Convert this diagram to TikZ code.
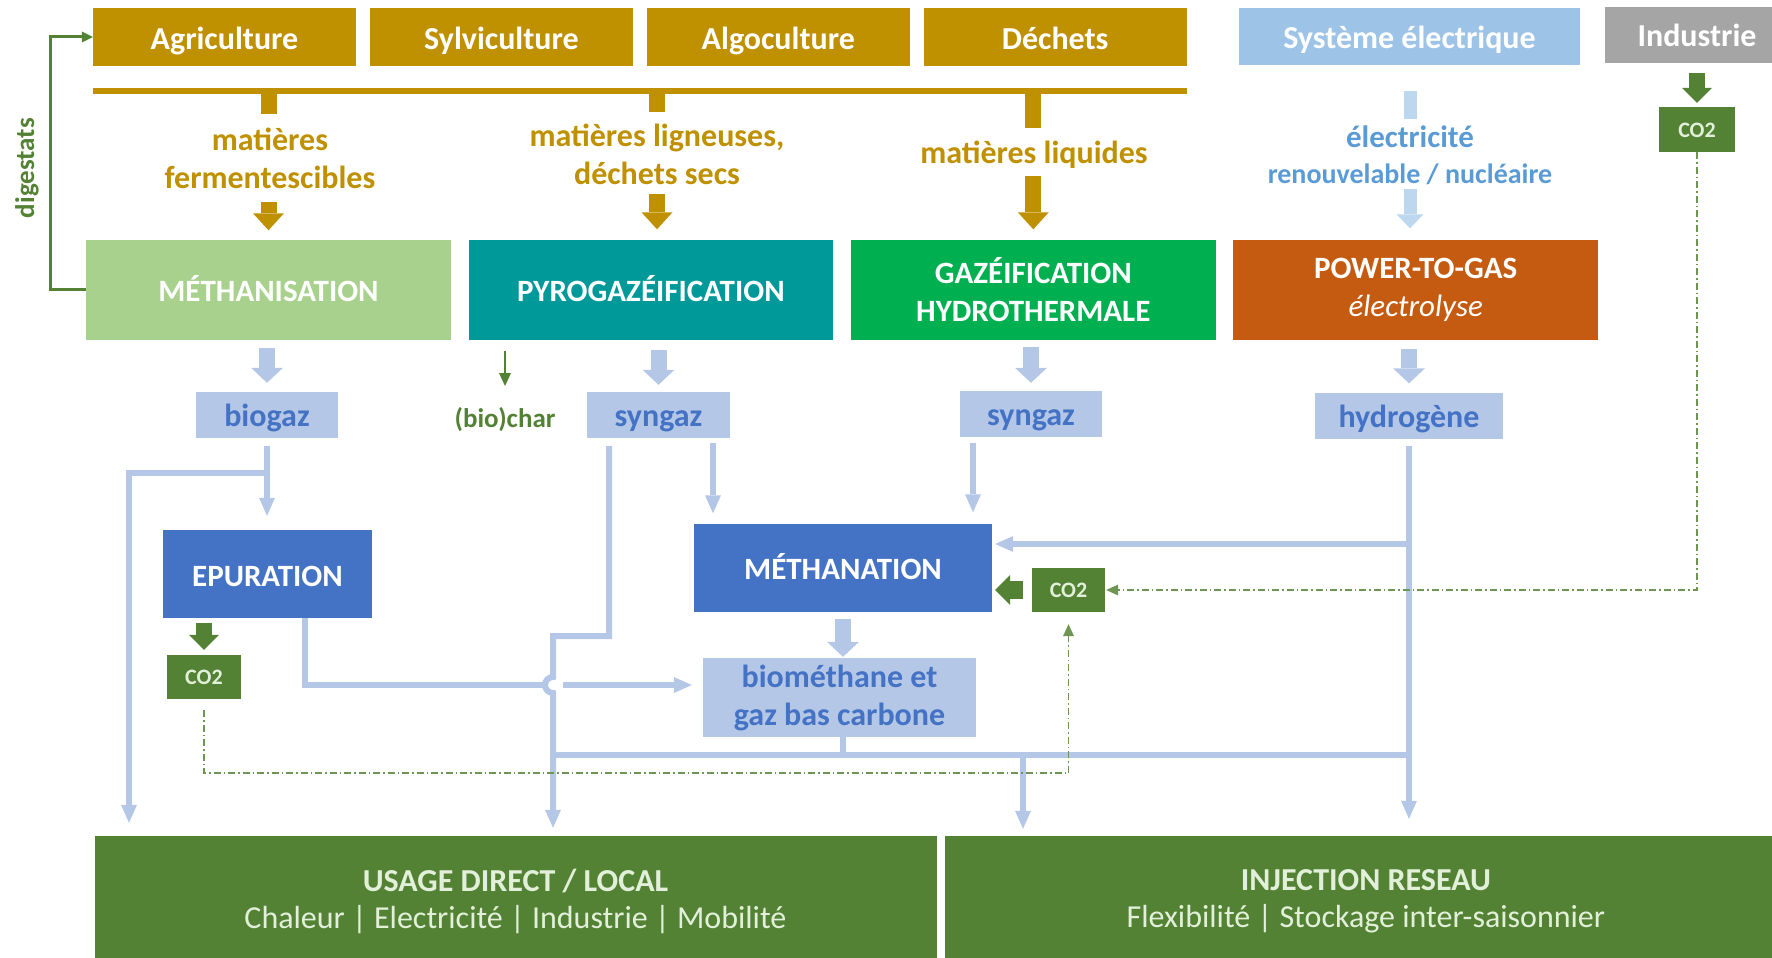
\documentclass[tikz,border=0pt]{standalone}
\usepackage{fontspec}
\setmainfont{Carlito}
\usepackage{xcolor}
\definecolor{cGold}{HTML}{BF9000}
\definecolor{cElec}{HTML}{9DC3E6}
\definecolor{cElecTxt}{HTML}{5B9BD5}
\definecolor{cElecArr}{HTML}{BDD7EE}
\definecolor{cIndus}{HTML}{A5A5A5}
\definecolor{cMethanis}{HTML}{A9D18E}
\definecolor{cPyro}{HTML}{009999}
\definecolor{cHydro}{HTML}{00B050}
\definecolor{cPtg}{HTML}{C55A11}
\definecolor{cGas}{HTML}{B4C7E7}
\definecolor{cBlue}{HTML}{4472C4}
\definecolor{cGreen}{HTML}{548235}
\definecolor{cPale}{HTML}{E2F0D9}
\usepackage{tikz}
\usetikzlibrary{positioning,arrows.meta}
\tikzset{
  node-src/.style={fill=cGold,text=white,inner sep=0pt,
    minimum width=263pt,minimum height=58pt,text height=28pt,text depth=4pt,
    font=\fontsize{32}{38}\selectfont\bfseries},
  node-proc/.style={text=white,inner sep=0pt,align=center,
    minimum width=364.5pt,minimum height=100pt,
    font=\fontsize{31}{38}\selectfont\bfseries},
  proc-line/.style={text height=26pt,text depth=2.5pt},
  node-gas/.style={fill=cGas,text=cBlue,inner sep=0pt,align=center,
    minimum height=46pt,font=\fontsize{32}{38}\selectfont\bfseries},
  gas-line/.style={node-gas,text height=30pt,text depth=6.5pt},
  node-unit/.style={fill=cBlue,text=white,inner sep=0pt,
    minimum height=88pt,text height=28pt,text depth=4pt,
    font=\fontsize{31}{38}\selectfont\bfseries},
  node-co2/.style={fill=cGreen,text=cPale,inner sep=0pt,
    minimum width=74pt,minimum height=44pt,text height=19pt,text depth=4pt,
    font=\fontsize{22}{26}\selectfont\bfseries},
  node-use/.style={fill=cGreen,text=cPale,inner sep=0pt,align=center,
    minimum width=842pt,minimum height=130pt,
    font=\fontsize{32}{37}\selectfont},
  lbl-gold/.style={text=cGold,inner sep=0pt,align=center,
    font=\fontsize{32}{38}\selectfont\bfseries},
  lbl-elec/.style={text=cElecTxt,inner sep=0pt,align=center,
    font=\fontsize{31}{36}\selectfont\bfseries},
  lbl-green/.style={text=cGreen,inner sep=0pt,
    font=\fontsize{27}{32}\selectfont\bfseries},
  bar-gold/.style={line width=6pt,draw=cGold},
  stub-gold/.style={line width=16pt,draw=cGold},
  arrow-gold/.style={line width=16pt,draw=cGold,
    -{Triangle[length=17pt,width=31pt,line width=0pt]}},
  stub-elec/.style={line width=13pt,draw=cElecArr},
  arrow-elec/.style={line width=13pt,draw=cElecArr,
    -{Triangle[length=14pt,width=27pt,line width=0pt]}},
  arrow-gas/.style={line width=16pt,draw=cGas,
    -{Triangle[length=15pt,width=32pt,line width=0pt]}},
  arrow-co2/.style={line width=16pt,draw=cGreen,
    -{Triangle[length=15pt,width=30pt,line width=0pt]}},
  flow/.style={line width=6pt,draw=cGas},
  flow-tip/.style={flow,-{Triangle[length=18pt,width=16pt,line width=0pt]}},
  arrow-thin/.style={line width=2.5pt,draw=cGreen,
    -{Triangle[length=13pt,width=12pt,line width=0pt]}},
  arrow-digest/.style={line width=3pt,draw=cGreen,
    -{Triangle[length=11pt,width=11pt,line width=0pt]}},
  arrow-loop/.style={line width=1.5pt,draw=cGreen!85,
    dash pattern=on 7pt off 3pt on 1.5pt off 3pt,
    -{Triangle[length=12pt,width=11pt,line width=0pt]}},
}

\begin{document}
\begin{tikzpicture}[x=1pt,y=-1pt]
  \useasboundingbox (0,0) rectangle (1772,958);
  \clip (0,0) rectangle (1772,958);

  % ressources
  \node[node-src]                         (agri)    at (224.5,37) {Agriculture};
  \node[node-src,right=13.5pt of agri]    (sylvi)   {Sylviculture};
  \node[node-src,right=13.5pt of sylvi]   (algo)    {Algoculture};
  \node[node-src,right=13.5pt of algo]    (dechets) {Déchets};
  \node[node-src,fill=cElec,minimum width=341pt,minimum height=57pt]
                                          (syselec) at (1409.5,36.5) {Système électrique};
  \node[node-src,fill=cIndus,minimum width=184pt,minimum height=56pt]
                                          (indus)   at (1697,35) {Industrie};
  \node[node-co2,minimum width=76pt,minimum height=45pt]
                                          (co2indus) at (1697,129.5) {CO2};

  \coordinate (bar) at (0,90.5);
  \node[lbl-gold] (fermlbl) at (270,158.5) {matières\\fermentescibles};
  \node[lbl-gold] (lignlbl) at (657,154)   {matières ligneuses,\\déchets secs};
  \node[lbl-gold] (liqlbl)  at (1034,155)  {matières liquides};
  \node[lbl-elec] (eleclbl) at (1410,155)
    {électricité\\{\fontsize{28}{34}\selectfont renouvelable / nucléaire}};
  \node[lbl-green,rotate=90] (digest) at (27,168) {digestats};

  % filieres
  \node[node-proc,proc-line,fill=cMethanis]   (methanis) at (268.5,289.5) {MÉTHANISATION};
  \node[node-proc,proc-line,fill=cPyro,right=17.5pt of methanis] (pyro) {PYROGAZÉIFICATION};
  \node[node-proc,fill=cHydro,right=17.5pt of pyro]     (gazhydro) {GAZÉIFICATION\\HYDROTHERMALE};
  \node[node-proc,fill=cPtg,right=17.5pt of gazhydro]   (ptg)
    {POWER-TO-GAS\\{\mdseries\itshape électrolyse}};

  % gaz produits
  \node[gas-line,minimum width=142pt] (biogaz)  at (267,415)    {biogaz};
  \node[gas-line,minimum width=143pt] (syngazA) at (658.5,415)  {syngaz};
  \node[gas-line,minimum width=142pt] (syngazB) at (1031,413.5) {syngaz};
  \node[gas-line,minimum width=188pt] (hydro)   at (1409,415.5) {hydrogène};
  \node[lbl-green]                    (biochar) at (505,420)    {(bio)char};

  \node[node-unit,minimum width=209pt] (epur)     at (267.5,574) {EPURATION};
  \node[node-unit,minimum width=298pt] (methanat) at (843,567.5) {MÉTHANATION};
  \node[node-co2]                      (co2epur)  at (204,677)   {CO2};
  \node[node-co2,minimum width=73pt]   (co2meth)  at (1068.5,590) {CO2};
  \node[node-gas,minimum width=273pt,minimum height=79pt]
                                       (biometh)  at (839.5,697.5) {biométhane et\\gaz bas carbone};

  % usages
  \node[node-use]                   (usage)  at (515.5,901)
    {\textbf{USAGE DIRECT / LOCAL}\\Chaleur | Electricité | Industrie | Mobilité};
  \node[node-use,right=8pt of usage] (inject)
    {\textbf{INJECTION RESEAU}\\Flexibilité | Stockage inter-saisonnier};

  % intrants
  \draw[bar-gold] (bar -| agri.west) -- (bar -| dechets.east);
  \draw[stub-gold,shorten >=45pt]  (bar -| methanis) -- (fermlbl.center -| methanis);
  \draw[stub-gold,shorten >=42pt]  (bar -| lignlbl) -- (lignlbl.center);
  \draw[stub-gold,shorten >=27pt]  (bar -| gazhydro) -- (liqlbl.center -| gazhydro);
  \draw[arrow-gold,shorten <=43.5pt,shorten >=9pt]  (fermlbl.center -| methanis) -- (methanis.north);
  \draw[arrow-gold,shorten <=40pt,shorten >=10pt]   (lignlbl.center) -- (lignlbl.center |- pyro.north);
  \draw[arrow-gold,shorten <=21pt,shorten >=10pt]   (liqlbl.center -| gazhydro) -- (gazhydro.north);
  \draw[stub-elec,shorten <=26pt,shorten >=36pt]    (syselec.south -| eleclbl) -- (eleclbl.center);
  \draw[arrow-elec,shorten <=34pt,shorten >=11pt]   (eleclbl.center) -- (eleclbl.center |- ptg.north);
  \draw[arrow-co2,shorten <=10pt,shorten >=4pt]     (indus.south -| co2indus) -- (co2indus.north);
  \draw[arrow-digest] (methanis.west) -- ++(-36,0) |- (agri.west);

  % sorties des filieres
  \draw[arrow-gas,shorten <=8pt,shorten >=9pt]   (methanis.south -| biogaz) -- (biogaz.north);
  \draw[arrow-gas,shorten <=10pt,shorten >=7pt]  (pyro.south -| syngazA) -- (syngazA.north);
  \draw[arrow-gas,shorten <=7pt,shorten >=7.5pt] (gazhydro.south -| syngazB) -- (syngazB.north);
  \draw[arrow-gas,shorten <=9pt,shorten >=9pt]   (ptg.south -| hydro) -- (hydro.north);
  \draw[arrow-thin,shorten <=11pt,shorten >=34pt] (pyro.south -| biochar) -- (biochar.center);

  % biogaz
  \coordinate (bgL) at (129,473);
  \draw[flow-tip,shorten <=8pt,shorten >=14pt] (biogaz.south) -- (biogaz.south |- epur.north);
  \draw[flow-tip,shorten <=8pt,shorten >=13pt]
    (biogaz.south) -- (biogaz.south |- bgL) -| (bgL |- usage.north);
  \draw[arrow-co2,shorten <=5pt,shorten >=5pt] (epur.south -| co2epur) -- (co2epur.north);

  % syngaz et hydrogene
  \coordinate (sgL) at (609,636);
  \coordinate (hop) at (553,685);
  \coordinate (sgR) at ([xshift=54.5pt]syngazA.south);
  \coordinate (sgB) at ([xshift=-58pt]syngazB.south);
  \coordinate (h2br) at (1409,544);
  \draw[flow-tip,shorten <=8pt,shorten >=8pt] (sgL |- syngazA.south) -- (sgL)
    -| ([yshift=8pt]hop) arc[start angle=90,end angle=270,radius=8pt] -- (hop |- usage.north);
  \draw[flow-tip,shorten <=5pt,shorten >=10pt] (sgR) -- (sgR |- methanat.north);
  \draw[flow-tip,shorten <=6pt,shorten >=11pt] (sgB) -- (sgB |- methanat.north);
  \draw[flow-tip,shorten <=7pt,shorten >=17pt] (hydro.south) -- (hydro.south |- inject.north);
  \draw[flow-tip,shorten >=3pt] (h2br) -- (h2br -| methanat.east);

  % epuration -> biomethane
  \coordinate (epO) at (305,685);
  \draw[flow-tip,shorten <=6pt,shorten >=11pt] (epO |- epur.south) -- (epO)
    -- ([xshift=-8pt]hop) ([xshift=4pt]hop) -- (hop -| biometh.west);

  \draw[arrow-co2,line width=18pt,shorten <=9pt,shorten >=3pt]
    (co2meth.west) -- (co2meth.west -| methanat.east);
  \draw[arrow-gas,shorten <=7pt,shorten >=1pt] (methanat.south) -- (methanat |- biometh.north);

  % collecteur vers les usages
  \coordinate (busL) at (553,755);
  \coordinate (busR) at (1409,755);
  \coordinate (busI) at (1023,755);
  \draw[flow] (busL) -- (busR);
  \draw[flow] (methanat |- biometh.south) -- (methanat |- busL);
  \draw[flow-tip,shorten >=7pt] (busI) -- (busI |- inject.north);

  % boucles CO2
  \draw[arrow-loop,shorten <=11pt,shorten >=12pt] (co2epur.south) -- ++(0,74) -| (co2meth.south);
  \draw[arrow-loop,shorten >=1pt] (co2indus.south) |- (co2meth.east);
\end{tikzpicture}
\end{document}
